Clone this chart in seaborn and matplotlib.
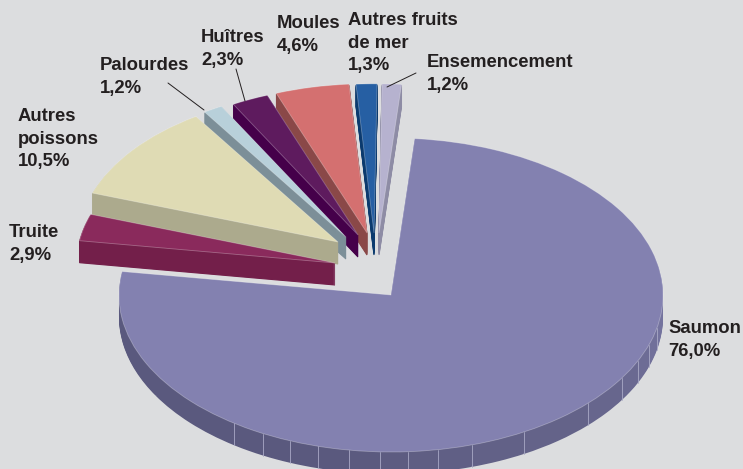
# -*- coding: utf-8 -*-
import numpy as np
import matplotlib
matplotlib.use("Agg")
import matplotlib.pyplot as plt
import seaborn as sns

# Donnees
categories = ['Saumon', 'Truite', 'Autres\npoissons', 'Palourdes', 'Huîtres',
              'Moules', 'Autres fruits\nde mer', 'Ensemencement']
shares = [76.0, 2.9, 10.5, 1.2, 2.3, 4.6, 1.3, 1.2]
share_labels = ['76,0%', '2,9%', '10,5%', '1,2%', '2,3%', '4,6%', '1,3%', '1,2%']

# Couleurs
top_colors = ['#8381B0', '#8A2A5C', '#DFDBB4', '#B8D0DA', '#5E1B5E', '#D47070', '#265FA3', '#B6B2CF']
wall_colors = ['#6A698F', '#731F4A', '#ACAA8D', '#7C8F98', '#45004A', '#8A4848', '#0B3A6E', '#8E8CA5']
bg_color = '#DCDDDF'
text_color = '#231F20'

# Position de chaque part en pixels (sommet)
apex_x = [391, 335, 338, 346, 358, 367, 374, 379]
apex_y = [295, 263, 242, 237, 235, 233, 233, 233]
radii = [1.0, 0.95, 0.955, 0.95, 0.95, 0.95, 0.95, 0.95]

# Filets verticaux du flanc du saumon (degres depuis le bas, vers la droite)
wall_lines = [77.8, 71.6, 65.2, 58.1, 46.4, 29.3, 17.3, 10.0, 3.6, -2.3, -8.9,
              -15.6, -21.8, -28.0, -35.2]

# Etiquettes en pixels
label_x = [668, 9, 18, 100, 201, 277, 348, 427]
label_y = [320, 224, 108, 57, 29, 15, 12, 54]
leaders = [((168, 83), (204, 110)), ((236, 69), (245, 101)), ((416, 73), (387, 87))]

W, H = 743, 469
RX, RY = 272, 157
DEPTH = 22
START = 85  # angle de depart du saumon

sns.set_theme(style="white", rc={'figure.facecolor': bg_color, 'axes.facecolor': bg_color})
plt.rcParams['font.family'] = ['Liberation Sans', 'DejaVu Sans']


def to_data(px, py):
    return (px - 391) / RX, (295 - py) / RY


fig = plt.figure(figsize=(W / 100, H / 100), dpi=100)
ax = fig.add_axes([0, 0, 1, 1])

# Flanc du saumon : une bande par filet, du clair (droite) au fonce (gauche)
bounds = [175] + [90] + wall_lines + [-60, -98.6]
seg_sizes = list(-np.diff(bounds) / 360 * 100)
seg_colors = sns.blend_palette(['#7776A2', '#65648A', '#5A597E', '#5A597E'], len(seg_sizes))
rest = 100 - sum(seg_sizes)

for k in range(DEPTH, 0, -1):
    seg, _ = ax.pie(seg_sizes + [rest], colors=list(seg_colors) + ['none'],
                    startangle=START, counterclock=False,
                    center=(0, -k / RY), wedgeprops={'linewidth': 0})
    seg[-1].set_visible(False)

# Flancs puis dessus des petites parts
for k in range(DEPTH, -1, -1):
    colors = top_colors if k == 0 else wall_colors
    wedges, _ = ax.pie(shares, colors=colors, startangle=START, counterclock=False,
                       wedgeprops={'linewidth': 0.6 if k == 0 else 0.8})
    for w, ax_px, ay_px, r, col in zip(wedges, apex_x, apex_y, radii, colors):
        cx, cy = to_data(ax_px, ay_px)
        w.set_center((cx, cy - k / RY))
        w.set_radius(r)
        w.set_edgecolor((1, 1, 1, 0.3) if k == 0 else col)
    if k > 0:
        wedges[0].set_visible(False)

# Filets du flanc
for phi in wall_lines:
    a = np.radians(phi)
    ax.plot([np.sin(a)] * 2, [-np.cos(a), -np.cos(a) - DEPTH / RY],
            color='#A9A9C6', lw=0.6, zorder=1.5)

# Traits de rappel
for p0, p1 in leaders:
    x0, y0 = to_data(*p0)
    x1, y1 = to_data(*p1)
    ax.plot([x0, x1], [y0, y1], color=text_color, lw=0.7)

# Etiquettes
for cat, lab, lx, ly in zip(categories, share_labels, label_x, label_y):
    x, y = to_data(lx, ly)
    ax.text(x, y, f'{cat}\n{lab}', ha='left', va='top', fontsize=13.3,
            fontweight='bold', color=text_color, linespacing=1.43)

ax.set_aspect('auto')
ax.set_xlim(-391 / RX, (W - 391) / RX)
ax.set_ylim((295 - H) / RY, 295 / RY)
ax.axis('off')

fig.savefig('out.png', dpi=100, facecolor=bg_color)
